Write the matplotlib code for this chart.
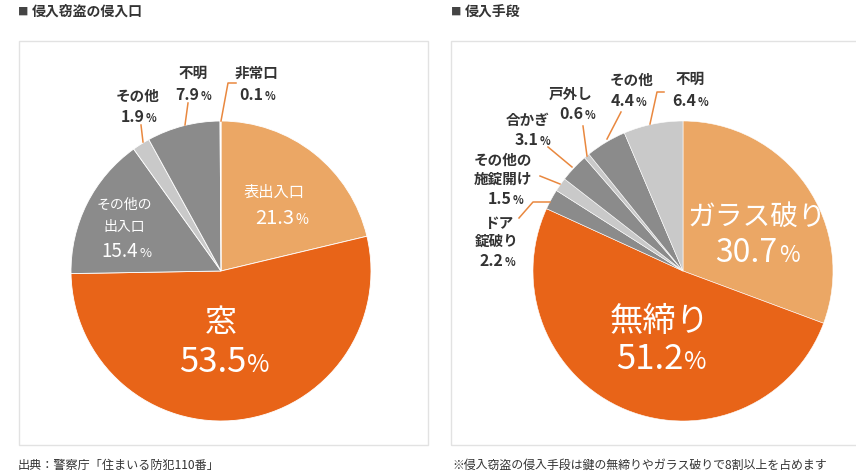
import matplotlib
matplotlib.use("Agg")
import matplotlib.pyplot as plt
from matplotlib.patches import Rectangle
from matplotlib.lines import Line2D

plt.rcParams['font.family'] = ['Noto Sans CJK JP', 'DejaVu Sans']

# ---------------- data ----------------
left_title = "侵入窃盗の侵入口"
left_cats = ["表出入口", "窓", "その他の出入口", "その他", "不明", "非常口"]
left_vals = [21.3, 53.5, 15.4, 1.9, 7.9, 0.1]

right_title = "侵入手段"
right_cats = ["ガラス破り", "無締り", "ドア錠破り", "その他の施錠開け", "合かぎ", "戸外し", "その他", "不明"]
right_vals = [30.7, 51.2, 2.2, 1.5, 3.1, 0.6, 4.4, 6.4]

source_note = "出典：警察庁「住まいる防犯110番」"
right_note = "※侵入窃盗の侵入手段は鍵の無締りやガラス破りで8割以上を占めます"

# ---------------- style ----------------
W, H = 856, 477
LO = "#EBA765"   # light orange
OR = "#E86418"   # orange
GR = "#8B8B8B"   # gray
LG = "#C9C9C9"   # light gray
WH = "#FFFFFF"
LINE = "#E9883F"
TXT = "#333333"

left_colors = [LO, OR, GR, LG, GR, WH]
right_colors = [LO, OR, GR, LG, GR, LG, GR, LG]

fig = plt.figure(figsize=(W / 100, H / 100), dpi=100)
fig.patch.set_facecolor("white")


def fx(x):
    return x / W


def fy(y):
    return 1 - y / H


def txt(x, y, s, size, color=TXT, weight="normal", ha="center", va="center"):
    return fig.text(fx(x), fy(y), s, fontsize=size, color=color,
                    fontweight=weight, ha=ha, va=va)


def pct(x, y, num, size, color=TXT, weight="normal", small=0.7):
    """number + smaller % sign, centered at x."""
    t1 = fig.text(fx(x), fy(y), num, fontsize=size, color=color,
                  fontweight=weight, ha="left", va="baseline")
    t2 = fig.text(fx(x), fy(y), "%", fontsize=size * small, color=color,
                  fontweight=weight, ha="left", va="baseline")
    fig.canvas.draw()
    r = fig.canvas.get_renderer()
    w1 = t1.get_window_extent(r).width
    w2 = t2.get_window_extent(r).width
    tot = w1 + w2
    x0 = x - tot / 2
    base = y + size / 0.72 * 0.36
    t1.set_position((fx(x0), fy(base)))
    t2.set_position((fx(x0 + w1 + 1), fy(base)))


def leader(pts):
    xs = [fx(p[0]) for p in pts]
    ys = [fy(p[1]) for p in pts]
    fig.add_artist(Line2D(xs, ys, color=LINE, lw=1.1, transform=fig.transFigure))


def pie_axes(cx, cy, r):
    ax = fig.add_axes([fx(cx - r), fy(cy + r), 2 * r / W, 2 * r / H])
    ax.axis("off")
    return ax


def fix_limits(ax):
    ax.set_xlim(-1, 1)
    ax.set_ylim(-1, 1)
    ax.set_aspect("equal", adjustable="box")
    ax.axis("off")


# frames
fig.add_artist(Rectangle((fx(19), fy(446)), fx(428) - fx(19), fy(42) - fy(446),
                         transform=fig.transFigure, fill=False, ec="#E2E2E2", lw=1))
fig.add_artist(Rectangle((fx(451), fy(446)), fx(880) - fx(451), fy(42) - fy(446),
                         transform=fig.transFigure, fill=False, ec="#E2E2E2", lw=1))

# titles
txt(18, 12, "■", 7.5, color="#444444", ha="left")
txt(32, 12, left_title, 10, weight="bold", ha="left")
txt(451, 12, "■", 7.5, color="#444444", ha="left")
txt(465, 12, right_title, 10, weight="bold", ha="left")

# ---------------- left pie ----------------
axl = pie_axes(221, 272, 150)
axl.pie(left_vals, colors=left_colors, startangle=90, counterclock=False,
        radius=1, wedgeprops=dict(edgecolor="white", linewidth=0.6))
fix_limits(axl)

txt(274, 192, "表出入口", 11, color="white")
pct(281, 217, "21.3", 14.5, color="white")
txt(221, 323, "窓", 23, color="white")
pct(224, 360, "53.5", 25, color="white")
txt(124, 205, "その他の", 10, color="white")
txt(124, 227, "出入口", 10, color="white")
pct(126, 250, "15.4", 13.5, color="white")

txt(138, 96, "その他", 10.5, weight="bold")
pct(138, 116, "1.9", 11.5, weight="bold")
leader([(141, 126), (143, 143)])
txt(193, 73, "不明", 10.5, weight="bold")
pct(193, 94, "7.9", 11.5, weight="bold")
leader([(188, 104), (185, 126)])
txt(257, 73, "非常口", 10.5, weight="bold")
pct(257, 94, "0.1", 11.5, weight="bold")
leader([(236, 84), (228, 84), (221, 122)])

# ---------------- right pie ----------------
axr = pie_axes(683, 272, 150)
axr.pie(right_vals, colors=right_colors, startangle=90, counterclock=False,
        radius=1, wedgeprops=dict(edgecolor="white", linewidth=0.4))
fix_limits(axr)

txt(757, 217, "ガラス破り", 20, color="white")
pct(757, 251, "30.7", 23, color="white")
txt(660, 321, "無締り", 24, color="white")
pct(661, 357, "51.2", 25, color="white")

txt(690, 79, "不明", 10.5, weight="bold")
pct(690, 100, "6.4", 11.5, weight="bold")
leader([(664, 93), (657, 93), (650, 125)])
txt(632, 80, "その他", 10.5, weight="bold")
pct(628, 100, "4.4", 11.5, weight="bold")
leader([(621, 113), (607, 140)])
txt(571, 94, "戸外し", 10.5, weight="bold")
pct(577, 113, "0.6", 11.5, weight="bold")
leader([(583, 127), (587, 157)])
txt(528, 120, "合かぎ", 10.5, weight="bold")
pct(532, 139, "3.1", 11.5, weight="bold")
leader([(548, 148), (572, 168)])
txt(503, 160, "その他の", 10.5, weight="bold")
txt(503, 179, "施錠開け", 10.5, weight="bold")
pct(505, 198, "1.5", 11.5, weight="bold")
leader([(540, 177), (560, 185)])
txt(499, 223, "ドア", 10.5, weight="bold")
txt(497, 241, "錠破り", 10.5, weight="bold")
pct(497, 260, "2.2", 11.5, weight="bold")
leader([(519, 219), (533, 203), (550, 203)])

# notes
txt(18, 465, source_note, 8.7, ha="left")
txt(452, 465, right_note, 8.6, ha="left")

fig.savefig("out.png", dpi=100, facecolor="white")
